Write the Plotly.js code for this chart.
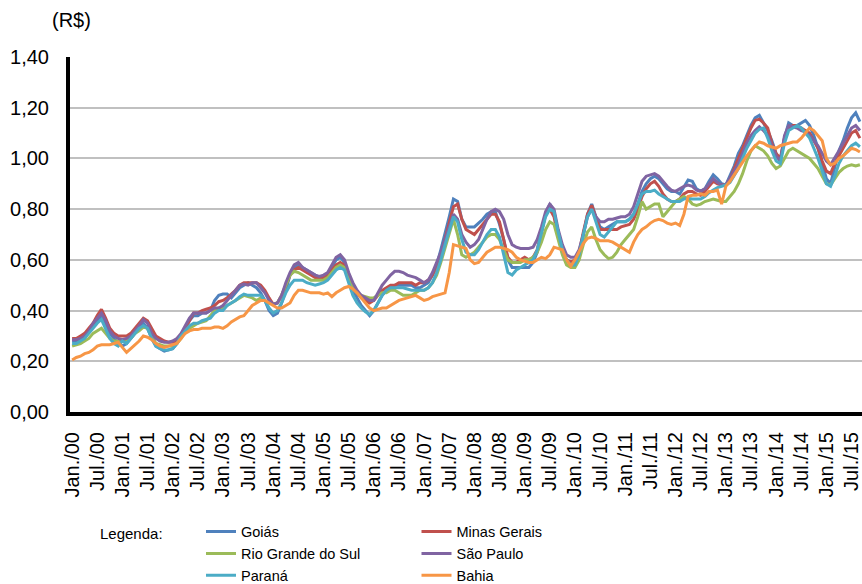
<!DOCTYPE html>
<html><head><meta charset="utf-8">
<script src="https://cdn.plot.ly/plotly-3.0.1.min.js"></script>
<style>html,body{margin:0;padding:0;background:#fff}#chart{width:862px;height:584px}</style>
</head><body><div id="chart"></div>
<script>
// Month names (Portuguese) used to build category labels
const monthNames = ['Jan.','Fev.','Mar.','Abr.','Mai.','Jun.','Jul.','Ago.','Set.','Out.','Nov.','Dez.'];
const firstYear = 2000;
const nPoints = 189; // Jan/2000 .. Sep/2015

const tickLabels = ['Jan./00','Jul./00','Jan./01','Jul./01','Jan./02','Jul./02','Jan./03','Jul./03',
  'Jan./04','Jul./04','Jan./05','Jul./05','Jan./06','Jul./06','Jan./07','Jul./07','Jan./08','Jul./08',
  'Jan./09','Jul./09','Jan./10','Jul./10','Jan./11','Jul./11','Jan./12','Jul./12','Jan./13','Jul./13',
  'Jan./14','Jul./14','Jan./15','Jul./15'];

const goias = [
 0.28,0.28,0.29,0.30,0.32,0.34,0.36,0.38,0.35,0.31,0.29,0.27,
 0.26,0.27,0.29,0.31,0.34,0.35,0.33,0.29,0.26,0.25,0.24,0.245,
 0.25,0.27,0.30,0.33,0.36,0.38,0.38,0.39,0.39,0.40,0.44,0.46,
 0.465,0.465,0.45,0.47,0.49,0.50,0.51,0.50,0.49,0.47,0.44,0.40,
 0.38,0.39,0.43,0.48,0.54,0.57,0.58,0.57,0.56,0.55,0.54,0.53,
 0.53,0.54,0.57,0.60,0.61,0.59,0.53,0.48,0.45,0.42,0.40,0.38,
 0.40,0.43,0.46,0.48,0.49,0.50,0.50,0.50,0.50,0.50,0.49,0.49,
 0.50,0.51,0.54,0.58,0.64,0.70,0.77,0.84,0.83,0.76,0.73,0.73,
 0.73,0.745,0.76,0.78,0.79,0.79,0.74,0.68,0.60,0.57,0.57,0.57,
 0.57,0.57,0.59,0.63,0.71,0.78,0.82,0.79,0.70,0.63,0.60,0.59,
 0.59,0.62,0.70,0.78,0.82,0.77,0.73,0.72,0.73,0.74,0.75,0.75,
 0.75,0.76,0.78,0.82,0.87,0.90,0.92,0.93,0.92,0.90,0.88,0.87,
 0.87,0.86,0.89,0.915,0.91,0.88,0.87,0.88,0.91,0.935,0.92,0.90,
 0.895,0.93,0.97,1.02,1.05,1.09,1.13,1.16,1.17,1.14,1.11,1.07,
 1.02,0.99,1.08,1.14,1.13,1.13,1.14,1.15,1.13,1.09,1.04,0.98,
 0.92,0.90,0.96,1.03,1.07,1.12,1.16,1.18,1.145];

const minasGerais = [
 0.29,0.29,0.30,0.31,0.33,0.35,0.38,0.405,0.37,0.33,0.31,0.30,
 0.30,0.30,0.31,0.33,0.35,0.37,0.36,0.33,0.30,0.29,0.28,0.275,
 0.275,0.28,0.30,0.33,0.36,0.39,0.39,0.40,0.405,0.41,0.42,0.435,
 0.44,0.45,0.465,0.48,0.50,0.51,0.51,0.51,0.51,0.50,0.48,0.45,
 0.425,0.43,0.46,0.50,0.54,0.56,0.57,0.56,0.55,0.54,0.53,0.53,
 0.53,0.54,0.56,0.58,0.59,0.58,0.54,0.50,0.47,0.45,0.44,0.43,
 0.44,0.46,0.48,0.49,0.50,0.50,0.51,0.51,0.51,0.51,0.50,0.51,
 0.51,0.52,0.54,0.57,0.62,0.68,0.75,0.81,0.82,0.76,0.72,0.71,
 0.70,0.72,0.74,0.76,0.78,0.78,0.75,0.68,0.61,0.59,0.59,0.60,
 0.61,0.60,0.61,0.64,0.71,0.78,0.80,0.77,0.69,0.63,0.60,0.59,
 0.60,0.63,0.71,0.78,0.815,0.77,0.72,0.72,0.72,0.72,0.72,0.73,
 0.735,0.74,0.76,0.80,0.85,0.88,0.90,0.91,0.89,0.86,0.84,0.83,
 0.83,0.84,0.86,0.87,0.87,0.86,0.855,0.87,0.89,0.91,0.90,0.895,
 0.895,0.92,0.96,1.00,1.04,1.08,1.12,1.15,1.155,1.14,1.12,1.06,
 1.02,1.00,1.08,1.12,1.13,1.13,1.12,1.11,1.10,1.07,1.04,0.99,
 0.95,0.94,0.98,1.01,1.04,1.07,1.10,1.11,1.08];

const rioGrandeDoSul = [
 0.26,0.265,0.27,0.28,0.29,0.31,0.32,0.33,0.31,0.29,0.28,0.28,
 0.28,0.28,0.29,0.31,0.32,0.335,0.33,0.30,0.27,0.265,0.26,0.26,
 0.26,0.27,0.29,0.32,0.33,0.34,0.35,0.355,0.36,0.38,0.40,0.41,
 0.41,0.42,0.43,0.44,0.45,0.46,0.455,0.45,0.44,0.45,0.44,0.43,
 0.425,0.43,0.46,0.50,0.54,0.555,0.55,0.54,0.53,0.52,0.52,0.52,
 0.52,0.53,0.55,0.57,0.58,0.57,0.53,0.49,0.47,0.46,0.455,0.45,
 0.45,0.46,0.47,0.47,0.48,0.48,0.47,0.46,0.46,0.46,0.47,0.48,
 0.48,0.49,0.51,0.54,0.59,0.65,0.71,0.76,0.70,0.62,0.61,0.62,
 0.63,0.65,0.67,0.69,0.70,0.70,0.68,0.64,0.60,0.59,0.59,0.59,
 0.60,0.60,0.61,0.63,0.67,0.72,0.75,0.74,0.68,0.62,0.58,0.57,
 0.57,0.60,0.66,0.71,0.73,0.68,0.64,0.62,0.605,0.61,0.63,0.66,
 0.68,0.70,0.72,0.77,0.83,0.80,0.81,0.82,0.82,0.77,0.79,0.81,
 0.83,0.84,0.85,0.84,0.82,0.815,0.82,0.83,0.835,0.84,0.835,0.83,
 0.83,0.85,0.87,0.90,0.94,0.99,1.03,1.05,1.04,1.03,1.01,0.98,
 0.96,0.97,1.00,1.03,1.04,1.03,1.02,1.01,1.00,0.98,0.96,0.93,
 0.90,0.895,0.92,0.945,0.96,0.97,0.975,0.97,0.975];

const saoPaulo = [
 0.285,0.285,0.29,0.30,0.32,0.35,0.37,0.39,0.36,0.32,0.30,0.29,
 0.285,0.29,0.30,0.32,0.34,0.365,0.35,0.31,0.29,0.28,0.275,0.275,
 0.28,0.29,0.31,0.34,0.37,0.39,0.39,0.39,0.39,0.40,0.41,0.41,
 0.42,0.44,0.46,0.48,0.50,0.505,0.50,0.51,0.51,0.49,0.47,0.44,
 0.425,0.43,0.46,0.51,0.55,0.58,0.59,0.57,0.56,0.55,0.54,0.535,
 0.54,0.55,0.58,0.61,0.62,0.60,0.55,0.51,0.48,0.46,0.45,0.44,
 0.44,0.47,0.50,0.52,0.54,0.555,0.555,0.55,0.54,0.535,0.53,0.52,
 0.51,0.52,0.55,0.59,0.63,0.68,0.73,0.78,0.76,0.70,0.67,0.65,
 0.66,0.68,0.72,0.76,0.79,0.80,0.79,0.76,0.70,0.66,0.65,0.645,
 0.645,0.645,0.65,0.68,0.73,0.79,0.82,0.80,0.72,0.66,0.62,0.61,
 0.61,0.64,0.70,0.77,0.80,0.77,0.75,0.75,0.76,0.76,0.765,0.77,
 0.77,0.78,0.81,0.86,0.91,0.93,0.935,0.94,0.93,0.91,0.89,0.875,
 0.87,0.88,0.89,0.895,0.89,0.875,0.87,0.88,0.90,0.92,0.905,0.895,
 0.895,0.92,0.95,0.98,1.02,1.06,1.09,1.11,1.125,1.11,1.09,1.05,
 1.01,0.99,1.09,1.13,1.125,1.12,1.11,1.105,1.09,1.07,1.05,1.02,
 0.99,0.975,1.00,1.03,1.06,1.09,1.12,1.13,1.11];

const parana = [
 0.27,0.27,0.28,0.29,0.31,0.33,0.35,0.365,0.33,0.29,0.27,0.26,
 0.28,0.27,0.29,0.31,0.33,0.34,0.33,0.29,0.26,0.25,0.245,0.245,
 0.25,0.27,0.30,0.32,0.34,0.35,0.35,0.36,0.365,0.37,0.39,0.40,
 0.40,0.42,0.43,0.44,0.455,0.465,0.46,0.46,0.46,0.46,0.44,0.41,
 0.39,0.40,0.43,0.47,0.50,0.52,0.52,0.52,0.51,0.505,0.50,0.505,
 0.51,0.52,0.54,0.56,0.57,0.56,0.51,0.46,0.43,0.41,0.395,0.385,
 0.40,0.43,0.46,0.48,0.49,0.49,0.49,0.49,0.485,0.48,0.48,0.48,
 0.48,0.49,0.51,0.55,0.60,0.66,0.72,0.77,0.75,0.68,0.63,0.62,
 0.62,0.64,0.67,0.70,0.72,0.72,0.69,0.62,0.55,0.54,0.56,0.57,
 0.58,0.59,0.60,0.64,0.71,0.77,0.80,0.79,0.71,0.64,0.60,0.58,
 0.58,0.62,0.70,0.77,0.80,0.75,0.70,0.69,0.71,0.73,0.75,0.75,
 0.75,0.76,0.78,0.82,0.86,0.87,0.87,0.875,0.86,0.85,0.84,0.83,
 0.83,0.83,0.84,0.843,0.84,0.84,0.84,0.85,0.865,0.875,0.885,0.89,
 0.895,0.905,0.93,0.96,1.00,1.04,1.07,1.10,1.115,1.12,1.08,1.03,
 0.99,0.98,1.06,1.11,1.12,1.13,1.12,1.10,1.08,1.04,1.00,0.95,
 0.90,0.89,0.93,0.98,1.01,1.03,1.05,1.06,1.046];

const bahia = [
 0.205,0.215,0.22,0.23,0.235,0.245,0.26,0.265,0.265,0.265,0.27,0.275,
 0.255,0.235,0.25,0.265,0.28,0.30,0.295,0.285,0.27,0.26,0.255,0.26,
 0.265,0.27,0.29,0.31,0.32,0.325,0.325,0.33,0.33,0.33,0.335,0.335,
 0.33,0.34,0.355,0.365,0.375,0.38,0.40,0.42,0.43,0.44,0.44,0.43,
 0.42,0.41,0.41,0.42,0.43,0.46,0.48,0.48,0.475,0.47,0.47,0.47,
 0.465,0.47,0.455,0.47,0.48,0.49,0.495,0.485,0.47,0.45,0.43,0.41,
 0.40,0.405,0.41,0.41,0.42,0.43,0.44,0.445,0.45,0.455,0.46,0.45,
 0.44,0.445,0.455,0.46,0.465,0.47,0.55,0.66,0.655,0.65,0.645,0.60,
 0.585,0.59,0.61,0.63,0.64,0.65,0.65,0.645,0.64,0.63,0.61,0.60,
 0.595,0.59,0.59,0.60,0.61,0.605,0.62,0.65,0.645,0.64,0.60,0.575,
 0.60,0.63,0.665,0.685,0.69,0.685,0.675,0.675,0.675,0.67,0.66,0.65,
 0.64,0.63,0.67,0.70,0.72,0.73,0.745,0.755,0.76,0.755,0.745,0.74,
 0.745,0.735,0.78,0.85,0.855,0.855,0.86,0.855,0.87,0.87,0.875,0.82,
 0.89,0.91,0.935,0.96,0.99,1.01,1.03,1.05,1.065,1.06,1.05,1.045,
 1.04,1.05,1.055,1.06,1.065,1.065,1.08,1.10,1.12,1.11,1.09,1.07,
 1.00,0.975,0.98,1.00,1.01,1.025,1.04,1.035,1.025];

const seriesNames = ['Goiás','Minas Gerais','Rio Grande do Sul','São Paulo','Paraná','Bahia'];
const seriesValues = [goias, minasGerais, rioGrandeDoSul, saoPaulo, parana, bahia];
const seriesColors = ['#4F81BD','#C0504D','#9BBB59','#8064A2','#4BACC6','#F79646'];
// legend column of each series (left column / right column)
const seriesLegend = ['legend','legend2','legend','legend2','legend','legend2'];

const categories = [];
for (let i = 0; i < nPoints; i++) {
  const yy = String((firstYear + Math.floor(i / 12)) % 100).padStart(2, '0');
  categories.push(monthNames[i % 12] + '/' + yy);
}

const traces = seriesNames.map((name, k) => ({
  type: 'scatter', mode: 'lines', name: name,
  x: categories, y: seriesValues[k],
  line: {color: seriesColors[k], width: 3},
  legend: seriesLegend[k],
  hoverinfo: 'skip'
}));

const FONT = 'Liberation Sans, Arial, sans-serif';
const legendBase = {
  orientation: 'v', xanchor: 'left', y: -0.292, yanchor: 'top',
  font: {size: 14.5, family: FONT, color: '#000'},
  traceorder: 'normal', bgcolor: 'rgba(0,0,0,0)', borderwidth: 0,
  tracegroupgap: 0
};
const layout = {
  width: 862, height: 584,
  margin: {l: 70, r: 0, t: 57, b: 172, pad: 0, autoexpand: false},
  paper_bgcolor: '#fff', plot_bgcolor: '#fff',
  separators: ',.',
  showlegend: true,
  font: {family: FONT, color: '#000'},
  xaxis: {
    type: 'category', range: [-0.5, nPoints - 0.5],
    tickmode: 'array', tickvals: tickLabels, ticktext: tickLabels,
    tickangle: -90, tickfont: {size: 20, family: FONT, color: '#000'},
    showgrid: false, zeroline: false,
    showline: true, linecolor: '#000', linewidth: 4,
    ticks: '', ticklabelstandoff: 8, automargin: false
  },
  yaxis: {
    range: [0, 1.4], dtick: 0.2, tick0: 0, tickformat: '.2f',
    tickfont: {size: 20, family: FONT, color: '#000'},
    showgrid: true, gridcolor: '#C0C0C0', gridwidth: 2,
    zeroline: false, showline: true, linecolor: '#000', linewidth: 4,
    ticks: '', ticklabelstandoff: 13, automargin: false
  },
  legend: Object.assign({}, legendBase, {x: 0.1654}),
  legend2: Object.assign({}, legendBase, {x: 0.4375}),
  annotations: [
    {text: '(R$)', xref: 'paper', yref: 'paper', x: 0.0025, y: 1.104,
     xanchor: 'center', yanchor: 'middle', showarrow: false,
     font: {size: 20, family: FONT, color: '#000'}},
    {text: 'Legenda:', xref: 'paper', yref: 'paper', x: 0.0354, y: -0.341,
     xanchor: 'left', yanchor: 'middle', showarrow: false,
     font: {size: 15, family: FONT, color: '#000'}}
  ]
};

Plotly.newPlot('chart', traces, layout, {staticPlot: true, displayModeBar: false});
</script>
</body></html>
